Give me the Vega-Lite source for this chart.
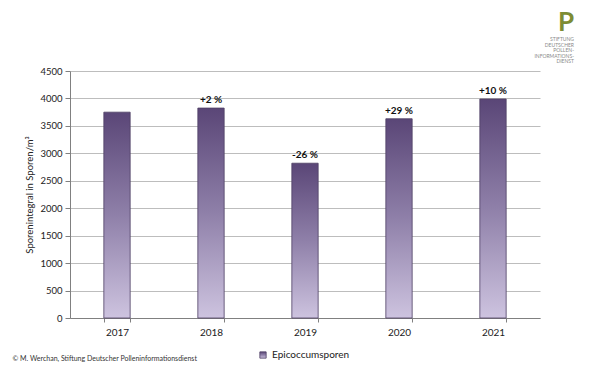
{
  "$schema": "https://vega.github.io/schema/vega-lite/v6.json",
  "width": 470,
  "height": 247,
  "padding": {"left": 12, "top": 10, "right": 10, "bottom": 5},
  "background": "white",
  "title": {
    "text": "P",
    "subtitle": ["STIFTUNG", "DEUTSCHER", "POLLEN-", "INFORMATIONS-", "DIENST"],
    "anchor": "end",
    "dx": 34,
    "font": "Lato",
    "fontSize": 26,
    "fontWeight": "bold",
    "color": "#7d8c34",
    "subtitleFont": "Lato",
    "subtitleFontSize": 5,
    "subtitleColor": "#8a8a8a",
    "subtitlePadding": 1,
    "subtitleLineHeight": 5.5,
    "offset": 2
  },
  "data": {
    "values": [
      {"year": "2017", "spores": 3750, "label": "", "series": "Epicoccumsporen"},
      {"year": "2018", "spores": 3825, "label": "+2 %", "series": "Epicoccumsporen"},
      {"year": "2019", "spores": 2820, "label": "-26 %", "series": "Epicoccumsporen"},
      {"year": "2020", "spores": 3630, "label": "+29 %", "series": "Epicoccumsporen"},
      {"year": "2021", "spores": 3990, "label": "+10 %", "series": "Epicoccumsporen"}
    ]
  },
  "encoding": {
    "x": {
      "field": "year",
      "type": "nominal",
      "scale": {"paddingInner": 0.72, "paddingOuter": 0.36},
      "axis": {
        "title": "© M. Werchan, Stiftung Deutscher Polleninformationsdienst",
        "titleFont": "Lato",
        "titleFontSize": 7,
        "titleFontWeight": "normal",
        "titleColor": "#333333",
        "titleAnchor": "start",
        "titleAlign": "left",
        "titleX": -58,
        "titleY": 36,
        "labelAngle": 0,
        "labelFont": "Lato",
        "labelFontSize": 10,
        "labelColor": "#222222",
        "labelPadding": 5,
        "tickBand": "extent",
        "tickSize": 4,
        "domainColor": "#808080",
        "tickColor": "#808080",
        "grid": false
      }
    },
    "y": {
      "field": "spores",
      "type": "quantitative",
      "scale": {"domain": [0, 4500], "nice": false},
      "axis": {
        "values": [0, 500, 1000, 1500, 2000, 2500, 3000, 3500, 4000, 4500],
        "format": "d",
        "title": "Sporenintegral in Sporen/m³",
        "titleFont": "Lato",
        "titleFontSize": 9.5,
        "titleFontWeight": "normal",
        "titleColor": "#222222",
        "titlePadding": 5,
        "labelFont": "Lato",
        "labelFontSize": 9.5,
        "labelColor": "#222222",
        "labelPadding": 3,
        "tickSize": 5,
        "domainColor": "#808080",
        "tickColor": "#808080",
        "gridColor": "#bdbdbd",
        "grid": true
      }
    }
  },
  "layer": [
    {
      "mark": {
        "type": "bar",
        "strokeWidth": 0.8,
        "fill": {"gradient": "linear", "x1": 0, "y1": 0, "x2": 0, "y2": 1,
                 "stops": [{"offset": 0, "color": "#5a4677"}, {"offset": 0.5, "color": "#8f80a9"}, {"offset": 1, "color": "#cdc3df"}]}
      },
      "encoding": {
        "stroke": {
          "field": "series",
          "type": "nominal",
          "scale": {"range": ["#4e3f63"]},
          "legend": {
            "title": null,
            "orient": "none",
            "legendX": 188,
            "legendY": 279,
            "symbolType": "square",
            "symbolSize": 40,
            "symbolFillColor": "#8576a0",
            "symbolStrokeWidth": 0.8,
            "labelFont": "Lato",
            "labelFontSize": 10,
            "labelColor": "#222222"
          }
        }
      }
    },
    {
      "mark": {"type": "text", "dy": -8, "fontWeight": "bold", "fontSize": 10, "font": "Lato", "color": "#111111"},
      "encoding": {"text": {"field": "label"}}
    }
  ],
  "config": {"view": {"stroke": null}}
}
